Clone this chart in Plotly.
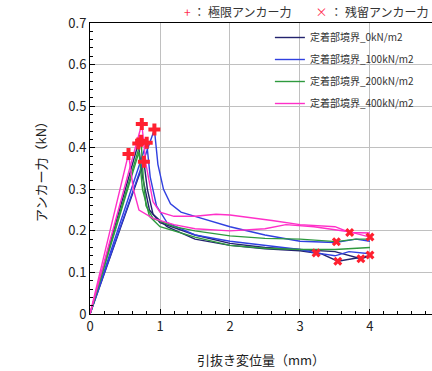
import plotly.graph_objects as go

# ---- data ----
series_names = ["定着部境界_0kN/m2", "定着部境界_100kN/m2", "定着部境界_200kN/m2", "定着部境界_400kN/m2"]
series_colors = ["#23236e", "#3040e0", "#2e9a3e", "#ff30c8"]

# dark (0 kN/m2)
dark_a_x = [0, 0.77, 0.82, 0.9, 1.1, 1.5, 2.0, 2.5, 3.0, 3.3, 3.54, 3.8, 4.0]
dark_a_y = [0, 0.366, 0.30, 0.24, 0.21, 0.18, 0.165, 0.157, 0.152, 0.145, 0.127, 0.135, 0.14]
dark_b_x = [0, 0.69, 0.75, 0.85, 1.0, 1.5, 2.0, 2.5, 3.0, 3.5, 3.87, 4.0]
dark_b_y = [0, 0.41, 0.33, 0.25, 0.22, 0.19, 0.17, 0.16, 0.155, 0.15, 0.133, 0.14]
# blue (100 kN/m2)
blue_a_x = [0, 0.92, 0.97, 1.05, 1.15, 1.3, 1.5, 2.0, 2.5, 3.0, 3.5, 3.8, 4.0]
blue_a_y = [0, 0.444, 0.36, 0.30, 0.265, 0.245, 0.235, 0.21, 0.19, 0.175, 0.172, 0.18, 0.175]
blue_b_x = [0, 0.81, 0.86, 0.95, 1.1, 1.5, 2.0, 2.5, 3.0, 3.23, 3.5, 3.7, 4.0]
blue_b_y = [0, 0.412, 0.33, 0.26, 0.22, 0.19, 0.175, 0.165, 0.155, 0.147, 0.14, 0.15, 0.145]
# green (200 kN/m2)
green_a_x = [0, 0.73, 0.76, 0.8, 0.9, 1.2, 1.5, 2.0, 2.5, 3.0, 3.52, 3.8, 4.0]
green_a_y = [0, 0.417, 0.33, 0.26, 0.23, 0.21, 0.20, 0.188, 0.182, 0.18, 0.174, 0.18, 0.18]
green_b_x = [0, 0.70, 0.75, 0.85, 1.0, 1.5, 2.0, 2.5, 3.0, 3.5, 4.0]
green_b_y = [0, 0.39, 0.30, 0.235, 0.21, 0.185, 0.165, 0.158, 0.155, 0.155, 0.16]
# pink (400 kN/m2)
pink_a_x = [0, 0.74, 0.8, 0.9, 1.0, 1.2, 1.5, 1.8, 2.0, 2.3, 2.6, 3.0, 3.5, 3.71, 4.0]
pink_a_y = [0, 0.457, 0.36, 0.27, 0.245, 0.235, 0.235, 0.24, 0.238, 0.232, 0.225, 0.215, 0.21, 0.196, 0.195]
pink_b_x = [0, 0.55, 0.62, 0.7, 0.9, 1.2, 1.5, 2.0, 2.5, 2.8, 3.2, 3.7, 4.0]
pink_b_y = [0, 0.385, 0.30, 0.25, 0.23, 0.215, 0.205, 0.20, 0.205, 0.215, 0.21, 0.198, 0.185]

# ultimate (peak) anchor force markers
peak_x = [0.74, 0.92, 0.55, 0.69, 0.73, 0.81, 0.77]
peak_y = [0.457, 0.444, 0.385, 0.41, 0.417, 0.412, 0.366]
# residual anchor force markers
resid_x = [3.71, 4.0, 3.52, 3.23, 3.54, 3.87, 4.0]
resid_y = [0.196, 0.185, 0.174, 0.147, 0.127, 0.133, 0.142]

x_ticks = [0, 1, 2, 3, 4]
y_ticks = [0, 0.1, 0.2, 0.3, 0.4, 0.5, 0.6, 0.7]

font_jp = "Noto Sans CJK JP"

fig = go.Figure()
groups = [
    (0, [(dark_a_x, dark_a_y), (dark_b_x, dark_b_y)]),
    (1, [(blue_a_x, blue_a_y), (blue_b_x, blue_b_y)]),
    (2, [(green_a_x, green_a_y), (green_b_x, green_b_y)]),
    (3, [(pink_a_x, pink_a_y), (pink_b_x, pink_b_y)]),
]
for idx, curves in groups:
    for k, (xs, ys) in enumerate(curves):
        fig.add_trace(go.Scatter(
            x=xs, y=ys, mode="lines",
            line=dict(color=series_colors[idx], width=1.4),
            name=series_names[idx], legendgroup=series_names[idx],
            showlegend=(k == 0)))

fig.add_trace(go.Scatter(x=peak_x, y=peak_y, mode="markers", showlegend=False,
                         marker=dict(symbol="cross", size=10, color="#ff2030", line=dict(width=0))))
fig.add_trace(go.Scatter(x=resid_x, y=resid_y, mode="markers", showlegend=False,
                         marker=dict(symbol="x", size=8, color="#ff2030", line=dict(width=0))))

fig.update_layout(
    width=432, height=371,
    margin=dict(l=90, r=0, t=23, b=57, autoexpand=False),
    paper_bgcolor="white", plot_bgcolor="white",
    font=dict(family=font_jp, size=12, color="#333"),
    legend=dict(x=0.526, y=1.0, xanchor="left", yanchor="top",
                bgcolor="rgba(255,255,255,0)", font=dict(size=10, color="#333"),
                tracegroupgap=3),
    annotations=[
        dict(text="<span style='color:#ff3050'>+</span> ： 極限アンカー力　　<span style='color:#ff3050'>×</span> ： 残留アンカー力",
             xref="paper", yref="paper", x=0.27, y=1.0, yshift=1, xanchor="left", yanchor="bottom",
             showarrow=False, font=dict(size=12, color="#333")),
    ],
)
fig.update_xaxes(
    range=[0, 4.886], tickvals=x_ticks, ticktext=[str(v) for v in x_ticks],
    showline=True, linecolor="black", linewidth=1, mirror=True,
    ticks="inside", ticklen=5, tickcolor="black",
    minor=dict(dtick=0.2, ticks="inside", ticklen=3, tickcolor="black", showgrid=False),
    showgrid=True, gridcolor="#c0c0c0", gridwidth=1, zeroline=False,
    title=dict(text="引抜き変位量（mm）", font=dict(size=13, color="#222"), standoff=22),
    tickfont=dict(size=13, color="#222"),
)
fig.update_yaxes(
    range=[0, 0.7], tickvals=y_ticks, ticktext=["0", "0.1", "0.2", "0.3", "0.4", "0.5", "0.6", "0.7"],
    showline=True, linecolor="black", linewidth=1,
    ticks="inside", ticklen=5, tickcolor="black",
    minor=dict(dtick=0.02, ticks="inside", ticklen=3, tickcolor="black", showgrid=False),
    showgrid=True, gridcolor="#c0c0c0", gridwidth=1, zeroline=False,
    title=dict(text="アンカー力（kN）", font=dict(size=13, color="#222"), standoff=18),
    tickfont=dict(size=13, color="#222"),
)

fig.write_html("out.html")
